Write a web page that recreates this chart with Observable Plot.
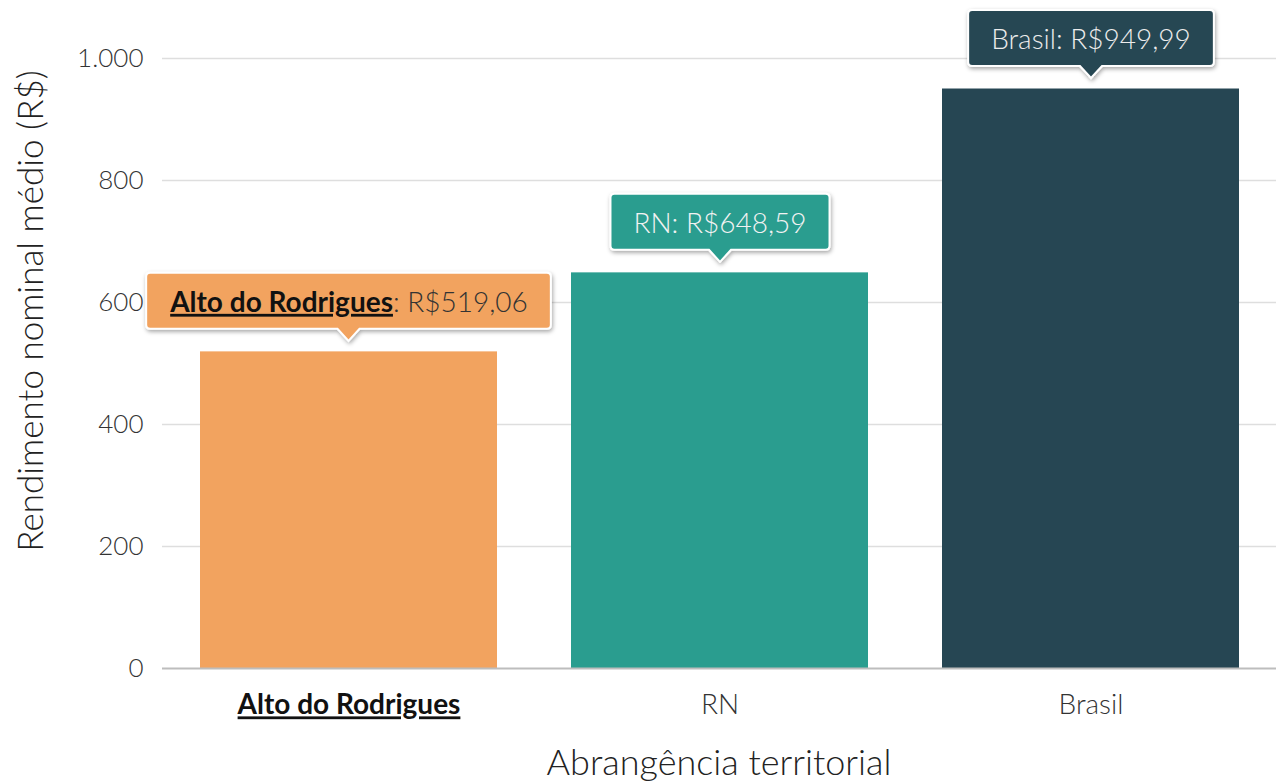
<!DOCTYPE html>
<html><head><meta charset="utf-8">
<script src="https://cdn.jsdelivr.net/npm/d3@7"></script>
<script src="https://cdn.jsdelivr.net/npm/@observablehq/plot@0.6"></script>
<style>
html,body{margin:0;padding:0;background:#fff;}
#chart{width:1276px;height:782px;}
#chart svg text{font-family:Lato, "Open Sans", sans-serif;}
</style></head><body><div id="chart"></div>
<script>
const categories = ["Alto do Rodrigues", "RN", "Brasil"];
const values = [519.06, 648.59, 949.99];
const barColors = ["#f2a35f", "#2a9d8f", "#264653"];
const labelTextColors = ["#333333", "#f2f2f2", "#ececec"];
const yTicks = [0, 200, 400, 600, 800, 1000];
const xTitle = "Abrangência territorial";
const yTitle = "Rendimento nominal médio (R$)";

const br = d3.formatLocale({decimal: ",", thousands: ".", grouping: [3], currency: ["R$", ""]});
const fmtTick = br.format(",");
const fmtMoney = br.format("$,.2f");

const data = categories.map((c, i) => ({
  cat: c, value: values[i], color: barColors[i], tcolor: labelTextColors[i],
  label: `${c}: ${fmtMoney(values[i])}`
}));

const chart = Plot.plot({
  width: 1276, height: 782,
  marginLeft: 162, marginRight: 0, marginTop: 58, marginBottom: 114,
  style: {fontFamily: "Lato, sans-serif", background: "#fff", overflow: "visible"},
  x: {domain: categories, paddingInner: 0.2, paddingOuter: 0.1, axis: null},
  y: {domain: [0, 1000], axis: null},
  color: {type: "identity"},
  marks: [
    Plot.ruleY(yTicks.filter(d => d > 0), {stroke: "#dedede", strokeWidth: 1.5}),
    Plot.barY(data, {x: "cat", y: "value", fill: "color"}),
    Plot.ruleY([0], {stroke: "#bdbdbd", strokeWidth: 2}),
    Plot.axisY(yTicks, {tickSize: 0, tickPadding: 19, tickFormat: fmtTick, fontSize: 26, label: null}),
    Plot.axisX({tickSize: 0, tickPadding: 26, fontSize: 28, label: null}),
    Plot.text(data, {x: "cat", y: "value", text: "label", dy: -49, fill: "tcolor", fontSize: 28})
  ]
});
document.getElementById("chart").appendChild(chart);

const svg = d3.select(chart);
const labelSet = new Set(data.map(d => d.label));
const yTickSet = new Set(yTicks.map(fmtTick));
const catSet = new Set(categories);

const defs = svg.append("defs");
const f = defs.append("filter").attr("id", "tipShadow").attr("x", "-20%").attr("y", "-40%").attr("width", "140%").attr("height", "200%");
f.append("feDropShadow").attr("dx", 1).attr("dy", 2).attr("stdDeviation", 2).attr("flood-color", "#000").attr("flood-opacity", 0.35);

const tipLayer = svg.append("g");
svg.selectAll("text").nodes().forEach(node => {
  const t = d3.select(node);
  const content = node.textContent;
  t.style("font-weight", 300);
  if (yTickSet.has(content)) {
    t.style("font-size", "26px").attr("fill", "#333");
  } else if (catSet.has(content)) {
    t.style("font-size", "28px").attr("fill", "#333");
    if (content === categories[0]) {
      t.style("font-weight", 700).attr("fill", "#111").style("text-decoration", "underline");
    }
  } else if (labelSet.has(content)) {
    const i = data.findIndex(d => d.label === content);
    const datum = data[i];
    t.style("font-size", "28px").attr("fill", datum.tcolor);
    if (i === 0) {
      t.text(null);
      t.append("tspan").text(datum.cat).style("font-weight", 700).style("text-decoration", "underline").attr("fill", "#111");
      t.append("tspan").text(content.slice(datum.cat.length)).attr("fill", "#333");
    }
    const parent = node.parentNode;
    const g = tipLayer.append("g").attr("transform", parent.getAttribute("transform"));
    g.node().appendChild(node);
    const bb = node.getBBox();
    const padX = 23, h = 56, r = 4, ph = 12, pw = 11;
    const cx = bb.x + bb.width / 2, cy = bb.y + bb.height / 2;
    const x0 = bb.x - padX, x1 = bb.x + bb.width + padX, y0 = cy - h / 2, y1 = cy + h / 2;
    const p = `M${x0 + r},${y0}H${x1 - r}Q${x1},${y0} ${x1},${y0 + r}V${y1 - r}Q${x1},${y1} ${x1 - r},${y1}` +
      `H${cx + pw}L${cx},${y1 + ph}L${cx - pw},${y1}H${x0 + r}Q${x0},${y1} ${x0},${y1 - r}V${y0 + r}Q${x0},${y0} ${x0 + r},${y0}Z`;
    g.insert("path", "text")
      .attr("transform", node.getAttribute("transform"))
      .attr("d", p).attr("fill", datum.color).attr("stroke", "#fff").attr("stroke-width", 2)
      .attr("filter", "url(#tipShadow)");
  }
});

svg.append("text").text(xTitle)
  .attr("x", 719).attr("y", 775).attr("text-anchor", "middle")
  .style("font-size", "36px").style("font-weight", 300).attr("fill", "#222");
svg.append("text").text(yTitle)
  .attr("transform", "translate(43,311) rotate(-90)").attr("text-anchor", "middle")
  .style("font-size", "35px").style("font-weight", 300).attr("fill", "#222");
</script></body></html>
